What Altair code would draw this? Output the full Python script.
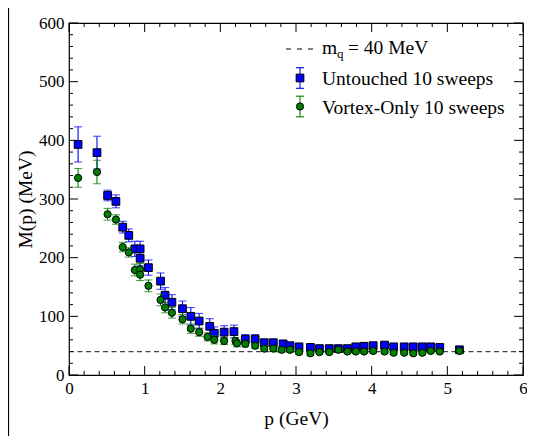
import altair as alt
import pandas as pd

FONT = "Liberation Serif"

# Untouched 10 sweeps
ut_p = [0.12, 0.37, 0.51, 0.62, 0.71, 0.79, 0.87, 0.94, 0.94, 1.05, 1.21, 1.27, 1.36, 1.50,
        1.61, 1.72, 1.86, 1.92, 2.05, 2.18, 2.33, 2.46, 2.58, 2.70, 2.83, 2.92, 3.04, 3.19,
        3.31, 3.44, 3.56, 3.68, 3.79, 3.90, 4.02, 4.17, 4.29, 4.43, 4.55, 4.67, 4.78, 4.90, 5.16]
ut_m = [393, 379, 306, 296, 252, 238, 215, 215, 199, 183, 160, 136, 124, 113,
        100, 92, 83, 71, 73, 74, 61, 61, 55, 55, 53, 50, 48, 47,
        45, 45, 45, 45, 48, 49, 50, 51, 48, 48, 48, 48, 48, 47, 43]
ut_err = [30, 28, 9, 11, 10, 11, 13, 13, 13, 13, 14, 13, 13, 13,
          15, 13, 13, 11, 11, 11, 8, 8, 6, 6, 6, 5, 4, 4,
          4, 4, 4, 4, 4, 4, 4, 4, 4, 4, 4, 4, 4, 4, 4]

# Vortex-Only 10 sweeps
vo_p = [0.12, 0.37, 0.51, 0.62, 0.71, 0.79, 0.87, 0.94, 0.94, 1.05, 1.21, 1.27, 1.36, 1.50,
        1.61, 1.72, 1.83, 1.92, 2.05, 2.20, 2.22, 2.33, 2.46, 2.58, 2.70, 2.81, 2.92, 3.04,
        3.19, 3.31, 3.44, 3.56, 3.68, 3.79, 3.90, 4.02, 4.17, 4.29, 4.43, 4.55, 4.67, 4.78,
        4.90, 5.16]
vo_m = [336, 346, 274, 265, 218, 209, 179, 180, 171, 152, 128, 115, 106, 95,
        79, 73, 65, 60, 58, 58, 54, 53, 50, 45, 45, 43, 43, 39,
        37, 39, 39, 43, 40, 40, 40, 41, 40, 38, 38, 37, 38, 41,
        40, 41]
vo_err = [16, 20, 10, 8, 8, 8, 10, 10, 10, 10, 10, 9, 9, 8,
          8, 7, 7, 7, 6, 6, 6, 5, 5, 5, 5, 4, 4, 4,
          4, 3, 3, 3, 3, 3, 3, 3, 3, 3, 3, 3, 3, 3,
          3, 3]

mq_value = 40
x_major = [0, 1, 2, 3, 4, 5, 6]
x_minor = [round(i * 0.2, 1) for i in range(31) if i % 5 != 0]
y_major = [0, 100, 200, 300, 400, 500, 600]
y_minor = [i * 20 for i in range(31) if i % 5 != 0]

W, H = 454, 352
BLUE = "#0000ff"
GREEN = "#008000"

xs = alt.Scale(domain=[0, 6], nice=False, zero=False)
ys = alt.Scale(domain=[0, 600], nice=False, zero=False)


def frame(p, m, e):
    return pd.DataFrame({"p": p, "m": m, "lo": [a - b for a, b in zip(m, e)],
                         "hi": [a + b for a, b in zip(m, e)]})


def caps(p, m, e):
    ys_ = [a - b for a, b in zip(m, e)] + [a + b for a, b in zip(m, e)]
    return pd.DataFrame({"p": list(p) + list(p), "y": ys_})


ut = frame(ut_p, ut_m, ut_err)
vo = frame(vo_p, vo_m, vo_err)

xaxis = alt.Axis(values=x_major, ticks=False, domain=False, grid=False, format="d",
                 labelFont=FONT, labelFontSize=17, labelColor="black", labelPadding=5,
                 labelFlush=False, labelOverlap=False, orient="bottom",
                 title="p (GeV)", titleFont=FONT, titleFontSize=19.5, titleFontWeight="normal",
                 titleColor="black", titleX=W / 2, titleY=43, titleBaseline="middle",
                 titleAlign="center")
yaxis = alt.Axis(values=y_major, ticks=False, domain=False, grid=False, format="d",
                 labelFont=FONT, labelFontSize=17, labelColor="black", labelPadding=5,
                 labelFlush=False, labelOverlap=False, orient="left",
                 title="M(p) (MeV)", titleFont=FONT, titleFontSize=19.5, titleFontWeight="normal",
                 titleColor="black", titleX=-44, titleY=H / 2, titleBaseline="middle",
                 titleAlign="center", titleAngle=270)

mq_line = alt.Chart(pd.DataFrame({"x": [0], "x2": [6], "y": [mq_value]})).mark_rule(
    color="#444444", strokeDash=[5, 3.5], strokeWidth=1.2
).encode(x=alt.X("x:Q", scale=xs, axis=xaxis), x2="x2:Q", y=alt.Y("y:Q", scale=ys, axis=yaxis))


def series(df, capdf, color, shape, size):
    bars = alt.Chart(df).mark_rule(color=color, strokeWidth=1.1).encode(
        x=alt.X("p:Q", scale=xs, axis=None), y=alt.Y("lo:Q", scale=ys, axis=None), y2="hi:Q")
    cp = alt.Chart(capdf).mark_tick(color=color, thickness=1.1, size=8, orient="horizontal").encode(
        x=alt.X("p:Q", scale=xs, axis=None), y=alt.Y("y:Q", scale=ys, axis=None))
    pts = alt.Chart(df).mark_point(shape=shape, filled=True, fill=color, stroke="black",
                                   strokeWidth=1, size=size, opacity=1).encode(
        x=alt.X("p:Q", scale=xs, axis=None), y=alt.Y("m:Q", scale=ys, axis=None))
    return [bars, cp, pts]


layers = [mq_line]
layers += series(ut, caps(ut_p, ut_m, ut_err), BLUE, "square", 60)
layers += series(vo, caps(vo_p, vo_m, vo_err), GREEN, "circle", 52)

# inward ticks on all four sides
for vals, ln in ((x_major, 9), (x_minor, 4)):
    d = pd.DataFrame({"v": vals})
    layers.append(alt.Chart(d).mark_rule(color="black", strokeWidth=1).encode(
        x=alt.X("v:Q", scale=xs, axis=None), y=alt.value(H), y2=alt.value(H - ln)))
    layers.append(alt.Chart(d).mark_rule(color="black", strokeWidth=1).encode(
        x=alt.X("v:Q", scale=xs, axis=None), y=alt.value(0), y2=alt.value(ln)))
for vals, ln in ((y_major, 9), (y_minor, 4)):
    d = pd.DataFrame({"v": vals})
    layers.append(alt.Chart(d).mark_rule(color="black", strokeWidth=1).encode(
        y=alt.Y("v:Q", scale=ys, axis=None), x=alt.value(0), x2=alt.value(ln)))
    layers.append(alt.Chart(d).mark_rule(color="black", strokeWidth=1).encode(
        y=alt.Y("v:Q", scale=ys, axis=None), x=alt.value(W), x2=alt.value(W - ln)))

# legend
one = pd.DataFrame({"a": [0]})
LX = 231
TX = 253
txt = dict(font=FONT, fontSize=19.5, color="black", align="left", baseline="middle")
layers.append(alt.Chart(one).mark_rule(color="black", strokeDash=[5, 6], strokeWidth=1.1).encode(
    x=alt.value(217), x2=alt.value(244), y=alt.value(26)))
layers.append(alt.Chart(one).mark_text(**txt).encode(
    x=alt.value(TX), y=alt.value(25), text=alt.value("m")))
layers.append(alt.Chart(one).mark_text(font=FONT, fontSize=13, color="black", align="left",
                                       baseline="middle").encode(
    x=alt.value(TX + 15), y=alt.value(31), text=alt.value("q")))
layers.append(alt.Chart(one).mark_text(**txt).encode(
    x=alt.value(TX + 26), y=alt.value(25), text=alt.value("= 40 MeV")))

for yc, color, shape, size, label in ((55, BLUE, "square", 60, "Untouched 10 sweeps"),
                                      (83.5, GREEN, "circle", 52, "Vortex-Only 10 sweeps")):
    layers.append(alt.Chart(one).mark_rule(color=color, strokeWidth=1.1).encode(
        x=alt.value(LX), y=alt.value(yc - 10.3), y2=alt.value(yc + 10.3)))
    for dy in (-10.3, 10.3):
        layers.append(alt.Chart(one).mark_rule(color=color, strokeWidth=1.1).encode(
            x=alt.value(LX - 4), x2=alt.value(LX + 4), y=alt.value(yc + dy)))
    layers.append(alt.Chart(one).mark_point(shape=shape, filled=True, fill=color, stroke="black",
                                            strokeWidth=1, size=size, opacity=1).encode(
        x=alt.value(LX), y=alt.value(yc)))
    layers.append(alt.Chart(one).mark_text(**txt).encode(
        x=alt.value(TX), y=alt.value(yc + 1), text=alt.value(label)))

# left border of the original slide
layers.append(alt.Chart(one).mark_rule(color="black", strokeWidth=1.2).encode(
    x=alt.value(-60.5), y=alt.value(-15), y2=alt.value(413)))

chart = alt.layer(*layers).resolve_axis(x="independent", y="independent").properties(
    width=W, height=H,
    autosize=alt.AutoSizeParams(type="none"),
    padding={"left": 61, "top": 15, "right": 4, "bottom": 61},
    background="white",
).configure_view(stroke="black", strokeWidth=1.2)

chart.save("out.html", embed_options={"renderer": "svg", "actions": False})
